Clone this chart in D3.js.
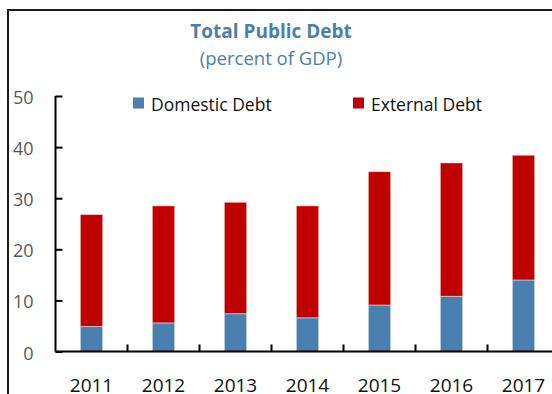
<!DOCTYPE html>
<html>
<head>
<meta charset="utf-8">
<script src="https://cdn.jsdelivr.net/npm/d3@7"></script>
<style>
html,body{margin:0;padding:0;background:#fff;}
svg{display:block;font-family:"Open Sans",sans-serif;}
</style>
</head>
<body>
<svg id="chart" width="552" height="394"></svg>
<script>
const years = ["2011","2012","2013","2014","2015","2016","2017"];
const domestic = [4.9, 5.6, 7.4, 6.6, 9.1, 10.8, 14.0];
const external = [21.9, 22.9, 21.8, 21.9, 26.1, 26.1, 24.4];
const yTicks = [0, 10, 20, 30, 40, 50];
const seriesNames = ["Domestic Debt", "External Debt"];
const seriesColors = ["#4a7fae", "#c00000"];

const svg = d3.select("#chart");

// outer frame
svg.append("rect").attr("x", 8).attr("y", 10).attr("width", 600).attr("height", 450)
  .attr("fill", "none").attr("stroke", "#1a1a1a").attr("stroke-width", 2);

// titles
svg.append("text").attr("x", 271).attr("y", 38).attr("text-anchor", "middle")
  .attr("font-size", 19).attr("font-weight", "bold").attr("fill", "#4a7fae")
  .text("Total Public Debt");
svg.append("text").attr("x", 271).attr("y", 65).attr("text-anchor", "middle")
  .attr("font-size", 18.5).attr("fill", "#4a7fae")
  .text("(percent of GDP)");

const x0 = 55.5, y0 = 351.5;
const x = d3.scaleBand().domain(years).range([x0, x0 + 72 * years.length])
  .paddingInner(0.69).paddingOuter(0.345);
const y = d3.scaleLinear().domain([0, 50]).range([y0, 96]);

const data = years.map((yr, i) => ({year: yr, domestic: domestic[i], external: external[i]}));
const stack = d3.stack().keys(["domestic", "external"])(data);

svg.append("g").selectAll("g").data(stack).join("g")
  .attr("fill", (d, i) => seriesColors[i])
  .selectAll("rect").data(d => d).join("rect")
  .attr("x", d => x(d.data.year))
  .attr("width", x.bandwidth())
  .attr("y", d => y(d[1]))
  .attr("height", d => y(d[0]) - y(d[1]))
  .attr("stroke", "rgba(255,255,255,0.45)")
  .attr("stroke-width", 1);

// y axis
const yAxis = svg.append("g").attr("transform", `translate(${x0},0)`)
  .call(d3.axisRight(y).tickValues(yTicks).tickSize(7).tickFormat(""));
yAxis.select(".domain").attr("stroke", "#000").attr("stroke-width", 2).attr("d", `M0,${y(50)}H0V${y0}`);
yAxis.selectAll(".tick line").attr("stroke", "#000").attr("stroke-width", 2);

// y labels (outside, left)
svg.append("g").selectAll("text").data(yTicks).join("text")
  .attr("x", 33.5).attr("y", d => y(d) + 8)
  .attr("text-anchor", "end").attr("font-size", 18).attr("fill", "#595959")
  .text(d => d);

// x axis
const xAxisG = svg.append("g").attr("transform", `translate(0,${y0})`);
xAxisG.append("line").attr("x1", x0).attr("x2", x0 + 72 * years.length)
  .attr("stroke", "#000").attr("stroke-width", 2);
xAxisG.selectAll("line.tk").data(years.slice(1)).join("line").attr("class", "tk")
  .attr("x1", d => x(d) - x.step() * x.paddingInner() / 2)
  .attr("x2", d => x(d) - x.step() * x.paddingInner() / 2)
  .attr("y1", 0).attr("y2", -7).attr("stroke", "#000").attr("stroke-width", 2);
xAxisG.selectAll("text").data(years).join("text")
  .attr("x", d => x(d) + x.bandwidth() / 2).attr("y", 40)
  .attr("text-anchor", "middle").attr("font-size", 19).attr("fill", "#111")
  .text(d => d);

// legend
const legendX = [133, 353];
const lg = svg.append("g").selectAll("g").data(seriesNames).join("g")
  .attr("transform", (d, i) => `translate(${legendX[i]},97.5)`);
lg.append("rect").attr("width", 11).attr("height", 11).attr("fill", (d, i) => seriesColors[i]);
lg.append("text").attr("x", 18).attr("y", 13.5).attr("font-size", 17.5).attr("fill", "#111")
  .text(d => d);
</script>
</body>
</html>
